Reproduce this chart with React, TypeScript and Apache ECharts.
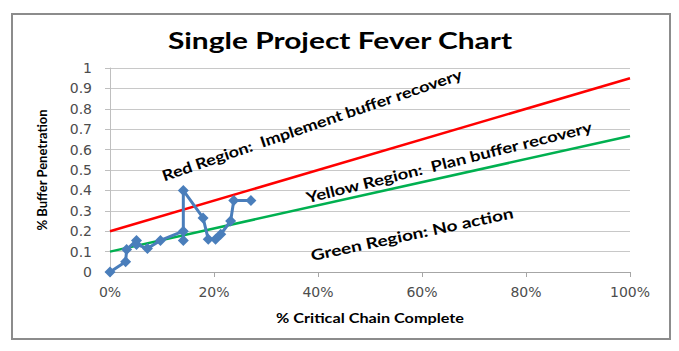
import React, { useEffect, useRef } from "react";
import * as echarts from "echarts";

const progressX = [0, 0.03, 0.032, 0.051, 0.051, 0.072, 0.097, 0.141, 0.141, 0.141, 0.179, 0.189, 0.203, 0.213, 0.232, 0.238, 0.271];
const penetrationY = [0, 0.05, 0.11, 0.155, 0.135, 0.115, 0.155, 0.2, 0.155, 0.4, 0.265, 0.16, 0.16, 0.185, 0.25, 0.35, 0.35];
const redLineX = [0, 1];
const redLineY = [0.2, 0.95];
const greenLineX = [0, 1];
const greenLineY = [0.1, 0.667];

const titleText = "Single Project Fever Chart";
const xAxisTitle = "% Critical Chain Complete";
const yAxisTitle = "% Buffer Penetration";
const redLabel = "Red Region:  Implement buffer recovery";
const yellowLabel = "Yellow Region:  Plan buffer recovery";
const greenLabel = "Green Region: No action";

const FONT = "Lato, 'Open Sans', sans-serif";
const TICK_FONT = "'DejaVu Sans', sans-serif";
const deg = (d: number) => (d * Math.PI) / 180;

export default function App() {
  const ref = useRef<HTMLDivElement>(null);
  useEffect(() => {
    if (!ref.current) return;
    const chart = echarts.init(ref.current, undefined, { renderer: "svg" });
    const zip = (xs: number[], ys: number[]) => xs.map((x, i) => [x, ys[i]]);
    const label = (text: string, x: number, y: number, rot: number, size: number, sx: number) => ({
      type: "text",
      x,
      y,
      rotation: deg(rot),
      scaleX: sx,
      style: {
        text,
        fontFamily: FONT,
        fontWeight: "bold",
        fontSize: size,
        fill: "#000",
        align: "center",
        verticalAlign: "middle",
      },
      z: 10,
      silent: true,
    });
    chart.setOption({
      animation: false,
      backgroundColor: "#ffffff",
      grid: { left: 110, right: 49, top: 68, bottom: 79, containLabel: false },
      xAxis: {
        type: "value",
        min: 0,
        max: 1,
        interval: 0.2,
        axisLine: { show: true, lineStyle: { color: "#a6a6a6", width: 1 } },
        axisTick: { show: true, length: 5, lineStyle: { color: "#a6a6a6" } },
        splitLine: { show: false },
        axisLabel: {
          margin: 13,
          fontFamily: TICK_FONT,
          fontSize: 14,
          color: "#4d4d4d",
          formatter: (v: number) => Math.round(v * 100) + "%",
        },
      },
      yAxis: {
        type: "value",
        min: 0,
        max: 1,
        interval: 0.1,
        name: yAxisTitle,
        nameLocation: "middle",
        nameGap: 62,
        nameTextStyle: { fontFamily: FONT, fontWeight: "bold", fontSize: 13, color: "#000" },
        axisLine: { show: true, lineStyle: { color: "#bfbfbf", width: 1 } },
        axisTick: { show: true, length: 5, lineStyle: { color: "#bfbfbf" } },
        splitLine: { show: true, lineStyle: { color: "#c8c8c8", width: 1 } },
        axisLabel: {
          margin: 18,
          fontFamily: TICK_FONT,
          fontSize: 14,
          color: "#4d4d4d",
          formatter: (v: number) => String(Math.round(v * 10) / 10),
        },
      },
      series: [
        {
          type: "line",
          data: zip(redLineX, redLineY),
          showSymbol: false,
          symbol: "none",
          lineStyle: { color: "#ff0000", width: 2.5 },
          z: 2,
        },
        {
          type: "line",
          data: zip(greenLineX, greenLineY),
          showSymbol: false,
          symbol: "none",
          lineStyle: { color: "#00b050", width: 2.5 },
          z: 2,
        },
        {
          type: "line",
          data: zip(progressX, penetrationY),
          symbol: "diamond",
          symbolSize: 11,
          itemStyle: { color: "#4a7ebb" },
          lineStyle: { color: "#4a7ebb", width: 3 },
          z: 3,
        },
      ],
      graphic: [
        {
          type: "rect",
          shape: { x: 12, y: 14, width: 658, height: 325 },
          style: { fill: "none", stroke: "#8c8c8c", lineWidth: 2 },
          silent: true,
        },
        label(titleText, 340, 41, 0, 22, 1.36),
        label(xAxisTitle, 370, 318, 0, 12.5, 1.3),
        label(redLabel, 312, 125, 18.9, 15, 1.2),
        label(yellowLabel, 449, 162, 14, 15, 1.23),
        label(greenLabel, 412, 234, 12, 15, 1.27),
      ],
    });
    return () => chart.dispose();
  }, []);
  return (
    <div
      ref={ref}
      style={{ position: "absolute", left: 0, top: 0, width: 679, height: 351, background: "#fff" }}
    />
  );
}
